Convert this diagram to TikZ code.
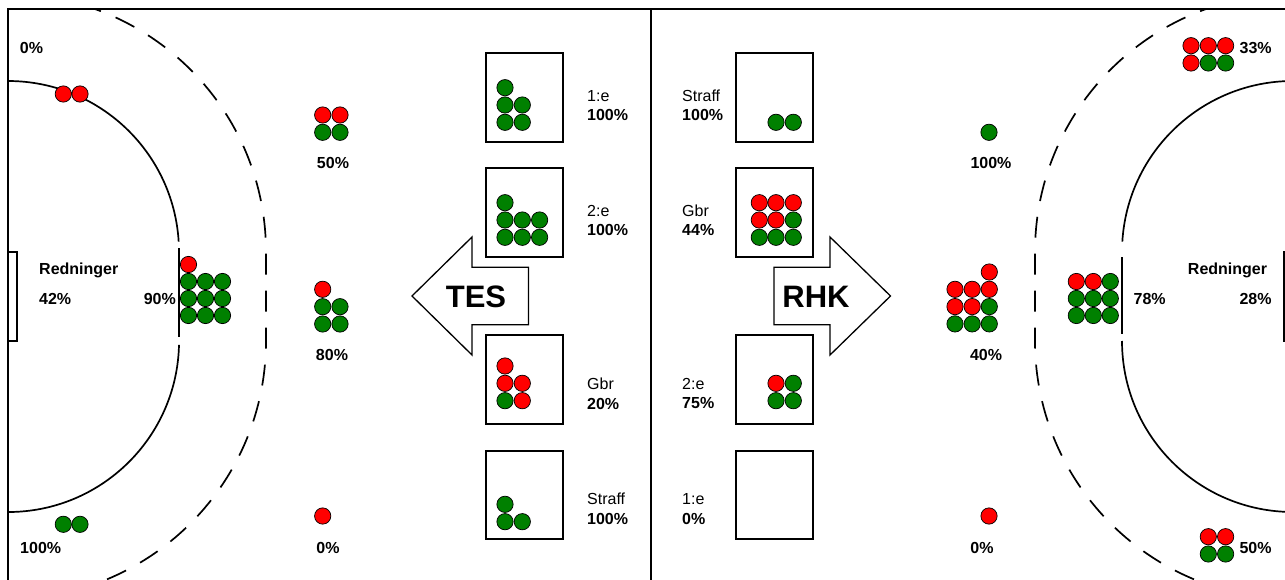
\documentclass[tikz,border=0pt]{standalone}
\usepackage{fontspec}
\setmainfont{Liberation Sans}
\definecolor{bred}{RGB}{255,0,0}
\definecolor{bgreen}{RGB}{0,128,0}
\begin{document}
\begin{tikzpicture}[x=1pt,y=-1pt,
  ball/.style={circle,draw=black,line width=0.7pt,minimum size=16.3pt,inner sep=0pt},
  R/.style={ball,fill=bred},
  G/.style={ball,fill=bgreen},
  lb/.style={font=\fontsize{16}{18}\selectfont\bfseries,inner sep=0pt,anchor=base},
  lr/.style={font=\fontsize{16}{18}\selectfont,inner sep=0pt,anchor=base west},
  big/.style={font=\fontsize{31}{34}\selectfont\bfseries,inner sep=0pt,anchor=base},
  sbox/.style={draw=black,line width=2pt},
  arr/.style={draw=black,line width=1.3pt,fill=white,line join=miter},
  area/.style={draw=black,line width=1.7pt},
  free/.style={draw=black,line width=1.7pt,dash pattern=on 21pt off 16pt}]
\useasboundingbox (0,0) rectangle (1285,580);
\clip (0,0) rectangle (1285,580);
% court lines, clipped to the frame
\begin{scope}
\clip (8,9) rectangle (1293,600);
\draw[area] (8,81) arc[start angle=-90,end angle=-3.5,radius=171];
\draw[area] (179,248) -- (179,337);
\draw[area] (179,344.9) arc[start angle=1.3,end angle=90,radius=171];
\draw[free] (8,-6) arc[start angle=-90,end angle=0,radius=258] -- (266,341) arc[start angle=0,end angle=90,radius=258];
\draw[line width=1.3pt] (8,252) rectangle (17,341);
\draw[area] (1293,81) arc[start angle=-90,end angle=-176.5,radius=171];
\draw[area] (1122,257) -- (1122,334);
\draw[area] (1122,341) arc[start angle=180,end angle=90,radius=171];
\draw[free] (1293,-6) arc[start angle=-90,end angle=-180,radius=258] -- (1035,341) arc[start angle=180,end angle=90,radius=258];
\draw[line width=1.3pt] (1284,252) rectangle (1293,341);
\end{scope}
% frame
\draw[line width=2pt] (8,9) rectangle (1293,600);
\draw[line width=2pt] (651,9) -- (651,600);
% boxes
\draw[sbox] (486,53) rectangle (563,142);
\draw[sbox] (486,168) rectangle (563,257);
\draw[sbox] (486,335) rectangle (563,424);
\draw[sbox] (486,451) rectangle (563,539);
\draw[sbox] (736,53) rectangle (813,142);
\draw[sbox] (736,168) rectangle (813,257);
\draw[sbox] (736,335) rectangle (813,424);
\draw[sbox] (736,451) rectangle (813,539);
% arrows
\draw[arr] (412,296) -- (472,237) -- (472,267.3) -- (528.5,267.3) -- (528.5,324.7) -- (472,324.7) -- (472,355) -- cycle;
\node[big] (tes) at (476,307) {TES};
\draw[arr] (774,267.3) -- (830,267.3) -- (830,237) -- (890.5,296) -- (830,355) -- (830,324.7) -- (774,324.7) -- cycle;
\node[big] (rhk) at (816,307) {RHK};
% left field balls
\node[R] (a1) at (63.3,94) {};
\node[R] (a2) at (80,94) {};
\node[R] (b1) at (322.7,115) {};
\node[R] (b2) at (340,115) {};
\node[G] (b3) at (322.7,132.3) {};
\node[G] (b4) at (340,132.3) {};
\node[R] (c0) at (188.5,264.5) {};
\node[G] (c1) at (188.5,281.5) {};
\node[G] (c2) at (205.5,281.5) {};
\node[G] (c3) at (222.5,281.5) {};
\node[G] (c4) at (188.5,298.5) {};
\node[G] (c5) at (205.5,298.5) {};
\node[G] (c6) at (222.5,298.5) {};
\node[G] (c7) at (188.5,315.5) {};
\node[G] (c8) at (205.5,315.5) {};
\node[G] (c9) at (222.5,315.5) {};
\node[R] (d0) at (322.7,289.3) {};
\node[G] (d1) at (322.7,306.7) {};
\node[G] (d2) at (340,306.7) {};
\node[G] (d3) at (322.7,324) {};
\node[G] (d4) at (340,324) {};
\node[G] (e1) at (63.3,524.3) {};
\node[G] (e2) at (80,524.3) {};
\node[R] (f1) at (322.7,516) {};
% left box balls
\node[G] (p1) at (505,87.7) {};
\node[G] (p2) at (505,105) {};
\node[G] (p3) at (522.3,105) {};
\node[G] (p4) at (505,122.3) {};
\node[G] (p5) at (522.3,122.3) {};
\node[G] (q1) at (505,202.7) {};
\node[G] (q2) at (505,220) {};
\node[G] (q3) at (522.3,220) {};
\node[G] (q4) at (539.6,220) {};
\node[G] (q5) at (505,237.3) {};
\node[G] (q6) at (522.3,237.3) {};
\node[G] (q7) at (539.6,237.3) {};
\node[R] (r1) at (505,366) {};
\node[R] (r2) at (505,383.3) {};
\node[R] (r3) at (522.3,383.3) {};
\node[G] (r4) at (505,400.7) {};
\node[R] (r5) at (522.3,400.7) {};
\node[G] (s1) at (505,504.3) {};
\node[G] (s2) at (505,521.7) {};
\node[G] (s3) at (522.3,521.7) {};
% right box balls
\node[G] (t1) at (776,122.3) {};
\node[G] (t2) at (793.3,122.3) {};
\node[R] (u1) at (759.3,202.7) {};
\node[R] (u2) at (776,202.7) {};
\node[R] (u3) at (793.3,202.7) {};
\node[R] (u4) at (759.3,220) {};
\node[R] (u5) at (776,220) {};
\node[G] (u6) at (793.3,220) {};
\node[G] (u7) at (759.3,237.3) {};
\node[G] (u8) at (776,237.3) {};
\node[G] (u9) at (793.3,237.3) {};
\node[R] (v1) at (776,383.3) {};
\node[G] (v2) at (793.3,383.3) {};
\node[G] (v3) at (776,400.7) {};
\node[G] (v4) at (793.3,400.7) {};
% right field balls
\node[R] (w1) at (1191,45.7) {};
\node[R] (w2) at (1208.3,45.7) {};
\node[R] (w3) at (1225.6,45.7) {};
\node[R] (w4) at (1191,63) {};
\node[G] (w5) at (1208.3,63) {};
\node[G] (w6) at (1225.6,63) {};
\node[G] (x1) at (989,132.3) {};
\node[R] (y0) at (989.3,272) {};
\node[R] (y1) at (955,289.3) {};
\node[R] (y2) at (972.2,289.3) {};
\node[R] (y3) at (989.3,289.3) {};
\node[R] (y4) at (955,306.6) {};
\node[R] (y5) at (972.2,306.6) {};
\node[G] (y6) at (989.3,306.6) {};
\node[G] (y7) at (955,323.9) {};
\node[G] (y8) at (972.2,323.9) {};
\node[G] (y9) at (989.3,323.9) {};
\node[R] (z1) at (1076.3,281.5) {};
\node[R] (z2) at (1093.3,281.5) {};
\node[G] (z3) at (1110.3,281.5) {};
\node[G] (z4) at (1076.3,298.5) {};
\node[G] (z5) at (1093.3,298.5) {};
\node[G] (z6) at (1110.3,298.5) {};
\node[G] (z7) at (1076.3,315.5) {};
\node[G] (z8) at (1093.3,315.5) {};
\node[G] (z9) at (1110.3,315.5) {};
\node[R] (k1) at (989,516) {};
\node[R] (m1) at (1208.3,536.7) {};
\node[R] (m2) at (1225.6,536.7) {};
\node[G] (m3) at (1208.3,554) {};
\node[G] (m4) at (1225.6,554) {};
% left field labels
\node[lb] (L1) at (31.5,54) {0\%};
\node[lb] (L2) at (333,169) {50\%};
\node[lb,anchor=base west] (L3) at (39,274) {Redninger};
\node[lb,anchor=base west] (L4) at (39,304) {42\%};
\node[lb,anchor=base east] (L5) at (176,304) {90\%};
\node[lb] (L6) at (332,360) {80\%};
\node[lb] (L7) at (40.7,553) {100\%};
\node[lb] (L8) at (328,553) {0\%};
% left box labels
\node[lr] (B1a) at (587,101.7) {1:e};
\node[lb,anchor=base west] (B1b) at (587,121) {100\%};
\node[lr] (B2a) at (587,216.7) {2:e};
\node[lb,anchor=base west] (B2b) at (587,235.5) {100\%};
\node[lr] (B3a) at (587,389.7) {Gbr};
\node[lb,anchor=base west] (B3b) at (587,409) {20\%};
\node[lr] (B4a) at (587,504.7) {Straff};
\node[lb,anchor=base west] (B4b) at (587,524.5) {100\%};
% right box labels
\node[lr] (C1a) at (682,101.7) {Straff};
\node[lb,anchor=base west] (C1b) at (682,121) {100\%};
\node[lr] (C2a) at (682,216.7) {Gbr};
\node[lb,anchor=base west] (C2b) at (682,235.5) {44\%};
\node[lr] (C3a) at (682,389.5) {2:e};
\node[lb,anchor=base west] (C3b) at (682,408.5) {75\%};
\node[lr] (C4a) at (682,504.5) {1:e};
\node[lb,anchor=base west] (C4b) at (682,524) {0\%};
% right field labels
\node[lb] (R1) at (1255.7,54) {33\%};
\node[lb] (R2) at (991,169) {100\%};
\node[lb] (R3) at (1227.5,274) {Redninger};
\node[lb] (R4) at (1255.5,304) {28\%};
\node[lb] (R5) at (1149.7,304) {78\%};
\node[lb] (R6) at (986,360) {40\%};
\node[lb] (R7) at (982,553) {0\%};
\node[lb] (R8) at (1255.5,553) {50\%};
\end{tikzpicture}
\end{document}
